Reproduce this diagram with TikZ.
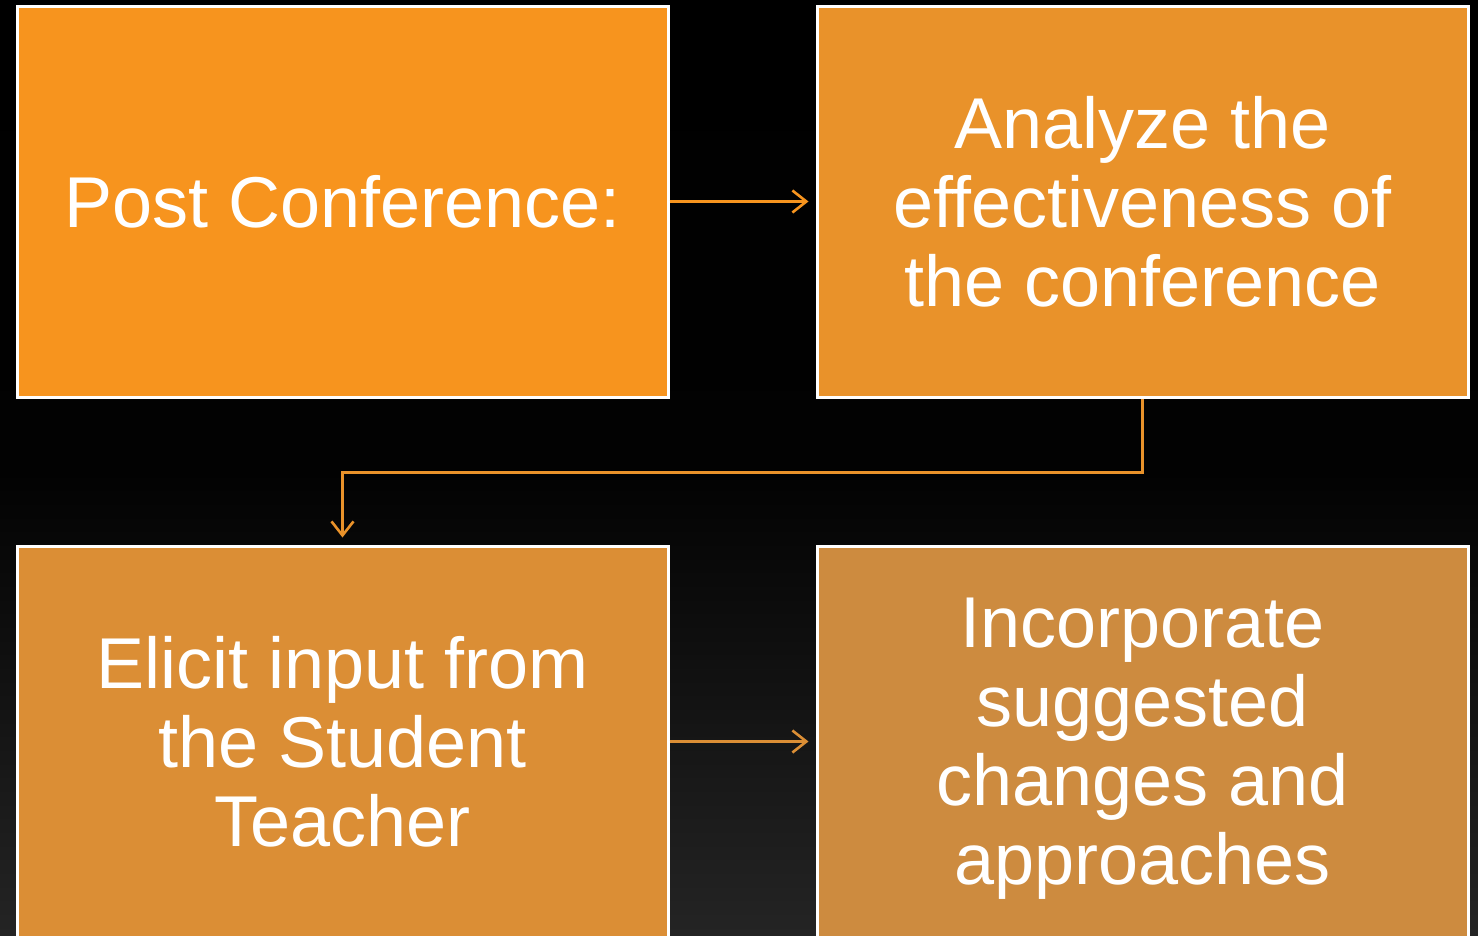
\documentclass[tikz,border=0pt]{standalone}
\usepackage{fontspec}
\setmainfont{Liberation Sans}
\usetikzlibrary{arrows.meta,calc}
\definecolor{cA}{RGB}{247,148,30}
\definecolor{cB}{RGB}{233,146,42}
\definecolor{cC}{RGB}{219,142,53}
\definecolor{cD}{RGB}{205,139,63}
\definecolor{bgbot}{RGB}{36,36,36}
\begin{document}
\begin{tikzpicture}[x=1pt,y=-1pt,
  stepbox/.style={draw=white, line width=3pt, minimum width=651pt, minimum height=391pt,
    inner sep=0pt, align=center, text=white, text depth=0pt, font=\fontsize{72}{79}\selectfont},
  conn/.style={line width=2.6pt, -{Straight Barb[length=14pt,width=22pt,line width=2.6pt]}, shorten >=7pt}]
\useasboundingbox (0,0) rectangle (1478,935);
\shade[top color=black, bottom color=bgbot, middle color={black!95!bgbot}] (0,0) rectangle (1478,935);
\begin{scope}
\clip (0,0) rectangle (1478,935);
\node[stepbox, fill=cA] (b1) at (342.5,201.5) {Post Conference:};
\node[stepbox, fill=cB] (b2) at (1142.5,201.5) {Analyze the\\effectiveness of\\the conference};
\node[stepbox, fill=cC] (b3) at (342.5,741.5) {Elicit input from\\the Student\\Teacher};
\node[stepbox, fill=cD] (b4) at (1142.5,741.5) {Incorporate\\suggested\\changes and\\approaches};
\end{scope}
\coordinate (bend) at ($(b2.south)+(0,74)$);
\draw[conn, cA] (b1.east) -- (b2.west);
\draw[conn, cB] (b2.south) -- (bend) -| (b3.north);
\draw[conn, cC] (b3.east) -- (b4.west);
\end{tikzpicture}
\end{document}
